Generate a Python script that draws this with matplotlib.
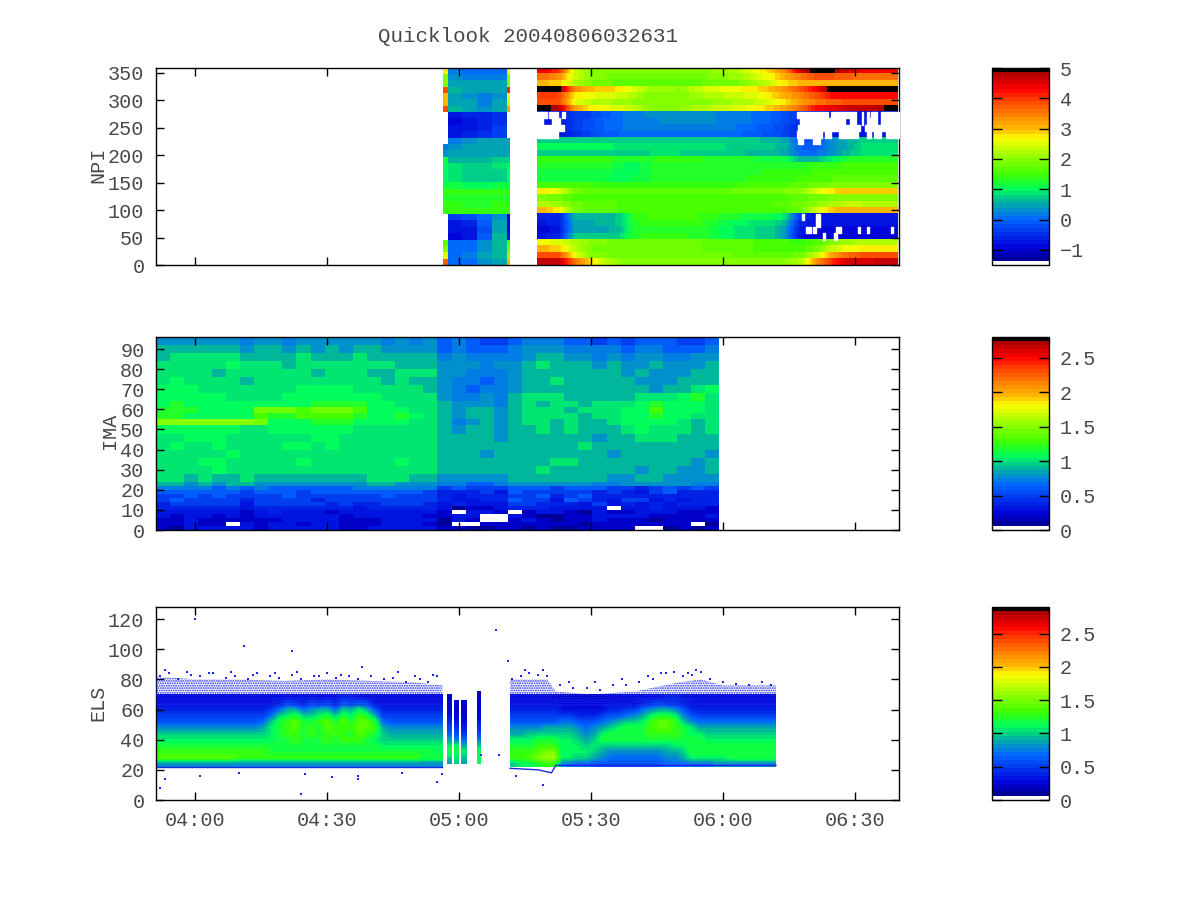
import numpy as np
import matplotlib; matplotlib.use('Agg')
import matplotlib.pyplot as plt
from matplotlib.colors import LinearSegmentedColormap

plt.rcParams.update({'font.family': 'Liberation Mono', 'font.size': 14.5, 'axes.linewidth': 1.0,
                     'text.color': '#484848', 'xtick.labelcolor': '#484848', 'ytick.labelcolor': '#484848',
                     'hatch.linewidth': 0.9})
nan = float('nan')

title = 'Quicklook 20040806032631'
xtick_min = [240, 270, 300, 330, 360, 390]
xtick_lab = ['04:00', '04:30', '05:00', '05:30', '06:00', '06:30']
t_lim = [230.9, 400.2]

# --- NPI: 31 sectors, top row first
npi_right_t = [317.8, 399.9]
npi_right = [
 [4.4,4.0,2.4,2.0,2.0,1.9,1.9,1.9,1.9,1.9,1.9,2.0,2.1,2.3,2.6,2.9,3.4,4.6,5.0,5.0,4.6,4.4,4.4,4.4],
 [3.6,3.3,2.4,2.0,1.9,1.8,1.8,1.8,1.8,1.8,1.8,1.9,2.0,2.1,2.4,2.7,3.1,3.5,3.8,3.8,3.7,3.6,3.6,3.6],
 [3.0,2.9,2.2,1.9,1.8,1.7,1.7,1.7,1.7,1.7,1.7,1.8,1.8,1.9,2.1,2.4,2.8,3.0,3.1,3.1,3.0,3.0,3.0,3.0],
 [5.0,5.0,3.4,3.0,2.9,2.8,2.5,2.1,2.1,2.0,2.3,2.5,2.6,2.7,2.8,3.0,3.3,3.8,4.3,5.0,5.0,5.0,5.0,5.0],
 [4.0,3.9,2.8,2.6,2.5,2.4,2.2,1.9,1.9,1.9,2.1,2.2,2.3,2.4,2.5,2.8,3.1,3.4,3.8,4.2,4.3,4.3,4.3,4.3],
 [3.9,3.8,2.6,2.3,2.2,2.1,2.0,1.9,1.9,1.9,2.0,2.0,2.1,2.2,2.3,2.5,2.8,3.2,3.5,3.7,3.8,3.8,3.8,3.9],
 [5.0,4.7,3.2,2.8,2.6,2.5,2.3,2.0,2.0,2.0,2.2,2.3,2.4,2.5,2.7,2.9,3.2,3.6,4.2,4.4,4.6,4.6,4.7,5.0],
 [-.7,-.7,-.4,-.3,-.1,0.1,0.2,0.3,0.3,0.3,0.3,0.3,0.2,0.2,0.1,0.0,-.2,-.5,-.7,-.7,-.8,-.8,-.8,-.8],
 [-.7,-.7,-.4,-.2,0.0,0.1,0.2,0.2,0.3,0.3,0.3,0.3,0.2,0.2,0.1,0.0,-.2,-.5,-.7,-.7,-.8,-.8,-.8,-.8],
 [-.7,-.7,-.4,-.2,0.0,0.1,0.2,0.2,0.2,0.2,0.2,0.2,0.2,0.1,0.0,-.1,-.3,-.6,-.7,-.7,-.8,-.8,-.8,-.8],
 [-.8,-.8,-.5,-.3,-.1,0.0,0.1,0.1,0.1,0.1,0.1,0.1,0.1,0.0,-.1,-.2,-.3,-.7,-.8,-.8,-.8,-.8,-.8,-.8],
 [0.8,0.8,0.8,0.8,0.8,0.8,0.8,0.8,0.8,0.8,0.8,0.8,0.8,0.7,0.7,0.6,0.5,-.1,-.3,0.3,0.5,0.7,0.8,0.8],
 [1.0,1.0,1.0,1.0,1.0,0.9,0.9,0.9,0.9,0.9,0.9,0.9,0.8,0.8,0.7,0.7,0.6,0.0,-.1,0.3,0.5,0.8,0.9,0.9],
 [0.8,0.8,0.8,0.8,0.8,0.8,0.8,0.8,0.9,0.8,0.8,0.8,0.7,0.7,0.6,0.6,0.5,0.1,0.1,0.3,0.6,0.8,0.9,0.9],
 [1.4,1.4,1.4,1.4,1.4,1.3,1.3,1.3,1.4,1.4,1.4,1.3,1.3,1.3,1.2,1.2,1.1,0.6,0.6,0.9,1.2,1.3,1.3,1.3],
 [1.3,1.3,1.3,1.3,1.3,1.1,1.0,1.2,1.3,1.3,1.3,1.3,1.3,1.3,1.3,1.3,1.3,1.3,1.4,1.4,1.5,1.5,1.5,1.5],
 [1.2,1.2,1.2,1.2,1.2,1.0,1.0,1.2,1.3,1.3,1.3,1.3,1.3,1.3,1.3,1.4,1.4,1.4,1.5,1.5,1.6,1.6,1.6,1.6],
 [1.2,1.2,1.2,1.2,1.1,1.0,1.1,1.2,1.3,1.3,1.3,1.3,1.3,1.3,1.4,1.4,1.4,1.5,1.6,1.6,1.7,1.7,1.7,1.7],
 [1.6,1.6,1.5,1.5,1.4,1.4,1.4,1.4,1.4,1.4,1.4,1.4,1.4,1.5,1.5,1.5,1.6,1.7,1.8,1.9,2.0,2.0,2.0,2.0],
 [2.8,2.5,1.8,1.7,1.7,1.7,1.7,1.7,1.7,1.7,1.7,1.7,1.7,1.8,1.8,1.8,1.9,2.0,2.4,2.8,2.9,2.9,2.9,2.9],
 [1.9,1.8,1.6,1.6,1.6,1.6,1.6,1.6,1.6,1.6,1.6,1.6,1.6,1.6,1.6,1.6,1.6,1.7,1.8,1.9,1.9,1.9,1.9,1.9],
 [2.2,2.1,1.8,1.7,1.7,1.6,1.6,1.6,1.6,1.6,1.6,1.6,1.6,1.6,1.6,1.6,1.7,1.8,2.0,2.2,2.3,2.3,2.2,2.2],
 [3.0,2.7,1.8,1.7,1.7,1.6,1.6,1.6,1.6,1.6,1.6,1.6,1.5,1.5,1.5,1.5,1.6,1.7,2.4,2.9,3.1,3.1,3.1,3.1],
 [-.6,-.6,0.6,0.6,0.6,0.7,1.4,1.5,1.5,1.5,1.5,1.4,1.3,1.2,1.1,1.1,0.9,-.4,-.8,-.8,-.8,-.8,-.8,-.8],
 [-.7,-.6,0.5,0.5,0.6,0.7,1.3,1.4,1.4,1.4,1.4,1.3,1.1,1.0,0.9,0.9,0.6,-.6,-.8,-.8,-.8,-.8,-.8,-.8],
 [-.9,-.7,0.5,0.5,0.5,0.6,1.3,1.3,1.3,1.3,1.3,1.2,1.0,0.9,0.8,0.8,0.4,-.7,-.9,-.9,-.9,-.9,-.9,-.9],
 [-.7,-.6,0.7,0.7,0.7,0.8,1.3,1.4,1.4,1.4,1.3,1.2,1.0,0.9,0.8,0.8,0.4,-.8,-.9,-.9,-.9,-.9,-.9,-.9],
 [2.6,2.5,2.2,2.0,1.9,1.8,1.8,1.8,1.8,1.8,1.8,1.7,1.7,1.7,1.6,1.5,1.5,1.4,1.6,1.9,2.1,2.2,2.2,2.2],
 [3.0,2.9,2.3,1.9,1.8,1.8,1.8,1.8,1.8,1.8,1.8,1.7,1.7,1.7,1.6,1.6,1.5,1.5,1.8,2.3,2.6,2.7,2.8,2.8],
 [3.9,3.8,2.6,2.0,1.9,1.8,1.8,1.8,1.8,1.8,1.8,1.8,1.8,1.7,1.7,1.7,1.7,1.8,2.3,3.1,3.6,3.8,3.8,3.8],
 [4.7,4.6,3.6,2.9,2.3,2.0,1.9,1.9,1.9,1.9,1.9,1.9,1.9,1.9,1.9,1.9,2.0,2.2,3.2,4.0,4.5,4.5,4.6,4.6],
]
npi_left_edges = [296.4, 297.5, 300.7, 304.1, 307.5, 310.9, 311.6]
npi_left = [
 [2.8,.2,.1,.1,.1,2.6],[2.0,.3,.2,.2,.2,2.0],[1.9,.5,.4,.4,.4,1.9],[3.9,.6,.5,.4,.4,4.1],
 [3.0,.4,.3,.2,.3,2.6],[3.1,.5,.4,.2,.4,2.4],[3.8,.6,.4,.3,.4,3.2],
 [nan,-.8,-.6,-.6,-.5,nan],[nan,-.9,-.8,-.6,-.5,nan],[nan,-.8,-.7,-.6,-.4,nan],[nan,-.7,-.6,-.5,-.3,nan],
 [nan,.2,.3,.4,.4,.5],[.2,.3,.4,.4,.4,.4],[.3,.4,.4,.4,.4,.4],[1.1,.6,.6,.6,.7,.8],
 [1.0,.9,.8,.8,.9,1.0],[1.0,.9,.8,.7,.8,1.0],[1.0,.9,.7,.7,.8,1.0],[1.2,1.1,1.0,1.0,1.1,1.2],
 [1.4,1.4,1.4,1.4,1.4,1.4],[1.3,1.3,1.3,1.3,1.3,1.3],[1.4,1.4,1.3,1.3,1.4,1.4],[1.4,1.4,1.4,1.4,1.4,1.4],
 [nan,-.3,-.2,0.,.3,-.9],[nan,-.8,-.6,-.1,.4,-.9],[nan,-.8,-.7,-.2,.4,-.9],[nan,-.9,-.7,-.1,.6,-.8],
 [1.7,0.,.1,.3,.6,1.6],[2.0,0.,.1,.3,.6,1.8],[2.5,.1,.2,.4,.6,2.1],[3.7,.1,.1,.3,.5,3.0],
]
# missing samples in the right block: row from the top -> (start, end) in minutes
npi_gaps = {
 7: [(317.8,319.9),(320.5,322.6),(323.3,324.1),(376.8,384.0),(384.7,390.4),(391.6,391.9),(392.7,393.3),(393.8,395.0),(396.1,400.0)],
 8: [(317.8,319.0),(321.1,323.0),(377.6,387.9),(388.9,390.4),(391.6,391.9),(392.7,395.0),(396.1,400.0)],
 9: [(317.8,323.2),(323.5,323.9),(377.0,391.2),(392.3,400.0)],
 10: [(317.8,322.6),(376.8,382.5),(383.2,384.7),(386.5,390.8),(392.7,393.8),(394.4,396.0),(397.1,400.0)],
 11: [(377.2,378.3),(380.6,382.1)],
 23: [(377.9,378.4),(381.1,382.1)],
 24: [(381.1,382.1)],
 25: [(378.9,380.0),(380.6,381.1),(385.7,386.3),(386.5,387.0),(390.7,391.2),(392.8,393.3),(398.2,398.8)],
 26: [(382.7,383.2),(385.3,385.9)],
}

# --- IMA: 40 time columns, bands from the top, values in tenths
ima_t = [230.9, 359.2]
ima_edges = [96,92,88,84,80,76,72,68,64,61,58,55,52,48,44,40,36,32,28,24,22,20,18,16,14,12,10,8,6,4,2,0]
ima_tenths = [
 [8,8,8,8,8,8,7,8,8,7,8,8,8,8,8,8,7,8,7,8,6,7,6,5,5,6,7,7,7,6,6,5,6,5,6,6,6,5,5,6],
 [9,9,9,9,9,9,8,9,9,8,9,8,9,8,9,9,8,8,8,8,6,7,6,6,6,7,8,8,8,7,7,7,7,6,7,7,6,6,6,7],
 [9,10,10,10,10,10,9,9,9,9,10,9,9,9,10,9,9,9,9,9,7,8,7,7,7,7,8,9,9,8,8,7,8,7,8,8,7,7,8,8],
 [10,10,10,10,10,11,10,10,10,9,10,10,10,10,10,10,10,9,9,9,8,8,8,7,8,8,9,10,9,9,9,8,9,8,8,9,8,8,8,9],
 [10,10,10,10,9,10,10,10,10,10,10,9,10,10,10,9,9,10,10,10,8,8,7,7,7,8,9,9,9,9,9,9,9,8,9,8,8,8,9,9],
 [10,11,10,10,10,10,9,10,10,10,10,10,10,10,10,10,9,10,9,9,8,7,7,6,7,8,9,9,10,9,9,9,9,9,8,8,8,9,9,9],
 [11,11,11,10,10,10,10,10,10,10,11,11,11,11,10,10,10,10,10,9,8,7,6,7,7,8,9,9,9,9,9,9,9,9,9,8,9,9,10,11],
 [11,11,11,11,11,10,10,10,10,11,11,11,11,11,11,11,10,10,10,10,8,7,7,8,7,9,10,10,10,9,9,9,9,9,10,10,10,11,12,10],
 [11,12,11,11,11,11,11,11,11,11,11,12,12,12,12,11,11,10,10,10,9,8,8,8,7,9,10,9,10,10,9,10,10,10,11,12,11,11,11,10],
 [12,12,12,11,11,11,11,14,14,14,13,14,14,14,13,11,11,11,10,10,9,8,9,9,8,9,10,10,10,9,10,10,10,11,11,13,11,11,11,10],
 [12,12,11,11,11,11,11,13,12,12,13,13,13,13,12,11,11,12,11,10,9,8,9,9,8,9,10,10,10,10,9,10,10,11,11,12,11,11,10,10],
 [15,15,15,15,15,15,15,14,11,11,11,12,12,12,11,11,11,11,10,10,9,7,8,9,8,9,10,10,9,10,9,9,10,11,11,11,11,10,9,10],
 [11,11,11,11,11,11,10,10,11,11,11,11,11,11,10,10,10,10,10,10,9,8,9,9,8,9,9,10,9,10,9,9,9,10,11,10,10,10,9,10],
 [10,10,11,11,11,10,10,10,10,10,10,11,11,10,10,10,10,10,10,10,9,9,9,9,8,9,9,9,9,9,9,8,9,9,10,10,10,9,9,9],
 [10,11,10,10,11,10,10,10,10,11,11,10,11,10,10,10,10,10,10,10,9,9,9,9,9,9,9,9,9,9,10,9,9,9,9,9,9,9,9,9],
 [10,10,10,10,10,11,10,10,10,10,10,10,10,10,10,10,10,10,10,10,9,9,9,8,9,9,9,9,9,9,9,9,8,9,9,9,9,9,9,8],
 [10,10,10,11,11,10,10,10,10,10,11,10,10,10,10,10,10,11,10,10,9,9,9,9,9,9,9,9,10,10,9,9,9,9,9,9,9,9,8,9],
 [10,10,10,10,11,10,10,10,10,10,10,10,10,10,10,10,10,10,10,10,9,9,9,9,9,9,9,10,9,9,9,9,9,9,8,9,9,8,8,9],
 [10,10,9,10,9,9,10,9,9,9,9,9,9,9,9,10,10,10,9,9,8,8,8,8,8,9,9,9,9,9,9,9,8,8,9,9,8,8,8,8],
 [9,9,8,9,8,9,9,8,8,8,8,8,8,8,8,9,9,8,8,8,7,7,6,6,7,8,8,8,8,8,8,7,7,8,8,8,8,8,7,7],
 [7,7,7,7,6,7,6,7,6,6,6,6,6,6,7,7,7,7,7,7,5,6,5,5,5,6,6,6,5,6,6,6,5,5,4,5,6,5,6,5],
 [6,6,6,6,6,6,5,6,6,6,5,6,6,6,6,6,6,6,6,5,4,4,4,5,3,6,5,5,5,5,5,4,5,4,3,5,6,4,4,4],
 [5,5,6,5,6,5,5,5,5,6,5,5,5,5,5,5,6,5,5,5,4,3,4,4,4,5,5,6,4,5,6,4,4,4,4,4,4,4,4,4],
 [5,6,5,5,5,5,4,5,5,5,5,4,5,5,5,5,5,5,5,5,4,3,3,4,4,6,5,5,3,6,5,4,3,5,5,3,4,3,4,4],
 [4,5,5,5,5,5,3,5,5,5,5,5,4,5,4,4,5,5,5,4,3,4,3,3,3,5,5,4,4,4,3,5,3,4,3,4,3,4,4,4],
 [4,4,4,4,4,4,3,4,4,4,4,4,4,4,3,4,4,4,4,4,3,1,2,2,3,4,4,4,3,3,3,3,nan,3,3,4,3,3,3,2],
 [3,3,3,3,3,3,2,3,4,3,3,3,2,3,3,3,3,3,3,3,2,nan,3,3,2,nan,2,3,3,2,1,3,2,2,3,3,3,2,2,2],
 [3,2,3,3,2,3,2,3,3,3,3,3,3,2,3,3,3,3,3,2,2,3,3,nan,nan,3,2,1,1,2,2,3,3,3,3,2,2,2,2,3],
 [2,2,3,2,2,2,2,2,2,3,3,3,3,2,2,2,3,3,3,3,1,3,2,nan,nan,2,3,2,1,2,2,3,2,2,2,1,2,2,2,2],
 [2,2,3,2,2,nan,3,2,3,3,2,3,3,2,2,2,3,3,3,2,1,nan,nan,2,2,2,2,2,2,2,1,2,2,2,2,2,2,2,nan,1],
 [2,1,3,3,3,3,3,2,3,3,3,3,3,2,2,3,3,3,3,3,2,2,1,1,2,2,1,2,1,1,2,2,2,2,nan,nan,1,2,1,2],
]

# --- ELS: energy rows from the bottom, values in tenths
els_rows = [22, 70]
els_left_t = [230.9, 296.2]
els_left = [
 [8,8,8,8,8,8,8,8,8,8,8,8,8,8,8,8,8,8,8,8,8,8,8,8,8,8,8,8,8,8,8,8,8,8,8,8],
 [14,14,14,14,14,14,14,14,14,14,13,13,13,13,13,13,13,13,13,13,13,13,13,13,13,13,13,13,13,13,13,13,13,12,12,12],
 [13,13,13,13,13,13,13,13,13,13,13,13,13,13,12,12,12,12,12,12,12,12,12,12,12,12,12,12,12,12,12,12,12,12,12,11],
 [12,12,12,12,12,12,12,12,12,12,12,12,12,12,12,12,12,12,12,12,12,12,12,12,12,12,12,12,11,11,11,11,11,11,11,11],
 [11,11,11,11,11,11,11,11,11,11,11,11,11,11,11,12,12,13,12,12,12,13,12,13,13,13,12,11,10,10,10,10,10,10,10,10],
 [10,10,10,10,10,10,10,10,10,10,10,10,10,10,11,12,13,13,12,13,12,13,13,13,12,14,13,12,10,9,9,9,9,9,9,9],
 [8,8,8,8,8,8,8,8,8,8,8,8,8,9,11,12,13,14,12,13,12,14,13,13,13,14,14,13,9,8,8,8,8,8,8,8],
 [6,6,6,6,6,6,6,6,6,6,6,6,6,7,10,12,13,14,12,12,13,14,12,14,12,14,14,12,7,6,6,6,6,6,6,6],
 [5,5,5,5,5,5,5,5,5,5,5,5,5,5,7,10,11,12,10,10,11,12,10,12,11,13,12,9,5,5,5,5,5,5,5,5],
 [4,4,4,4,4,4,4,4,4,4,4,4,4,4,5,7,9,9,7,8,9,9,7,10,9,11,9,6,4,4,4,4,4,4,4,4],
 [3,3,3,3,3,3,3,3,3,3,3,3,3,3,3,4,6,5,4,6,5,6,4,7,6,7,6,3,3,3,3,3,3,3,3,3],
 [3,3,3,3,3,3,3,3,3,3,3,3,3,3,3,3,3,3,3,3,3,3,3,4,4,3,3,3,3,3,3,3,3,3,3,3],
]
els_right_t = [311.6, 372.1]
els_right = [
 [10,11,11,12,13,13,8,7,7,7,6,6,6,6,6,6,6,6,6,7,7,7,7,7,7,8,8,8,8,8,8,8,8],
 [13,13,14,15,16,16,11,11,10,10,9,8,7,7,7,7,7,7,7,8,8,9,11,11,11,11,11,12,12,12,12,12,12],
 [13,13,13,14,15,15,11,11,11,11,10,9,8,8,8,8,8,8,8,9,9,10,12,12,12,12,12,12,12,12,12,12,12],
 [12,12,12,13,13,13,11,11,11,10,11,10,10,10,10,10,10,10,10,10,11,11,12,12,12,12,12,12,12,12,12,12,12],
 [11,11,11,12,12,12,11,11,10,9,10,12,12,12,12,12,12,12,12,12,12,12,12,12,11,11,11,11,11,11,11,11,11],
 [9,9,10,10,10,10,10,10,9,8,9,11,12,12,12,12,12,13,13,13,13,12,11,11,10,10,10,10,10,10,10,10,10],
 [8,8,8,8,9,9,9,9,8,7,8,9,10,11,12,12,12,13,14,14,13,12,11,9,9,9,9,9,9,9,9,9,9],
 [6,6,6,6,6,6,7,7,6,6,6,7,8,9,10,10,11,13,14,14,13,10,8,7,7,7,7,7,7,7,7,7,7],
 [5,5,5,5,5,5,5,5,4,4,4,5,6,6,7,8,9,11,12,12,11,8,6,5,5,5,5,5,5,5,5,5,5],
 [4,4,4,4,4,4,3,3,3,3,3,3,4,4,5,5,7,8,9,9,8,6,4,4,4,4,4,4,4,4,4,4,4],
 [3,3,3,3,3,3,3,3,3,3,3,3,3,3,3,3,4,5,6,5,5,4,3,3,3,3,3,3,3,3,3,3,3],
 [3,3,3,3,3,2,2,2,2,2,2,2,2,3,3,3,3,3,3,4,4,3,3,3,3,3,3,3,3,3,3,3,3],
]
# narrow bursts just after 04:56
els_strip_t = [(297.3,298.3),(298.9,300.0),(300.4,301.7),(304.1,305.0)]
els_strip_e = [(24,70),(24,66),(24,66),(24,72)]
els_strip_tenths = [
 [9,11,12,10,8,6,5,4,3,3,2,2],[10,11,12,11,8,6,5,4,3,3,2,2],[9,10,11,9,7,5,4,3,3,2,2,2],[11,12,11,9,6,5,4,3,3,2,2,2],
]
# thin fringe of sparse counts above the band, and its lower rim
els_fringe_t = [230.9,240,250,260,270,280,290,296.2]
els_fringe_top = [82,80,80,79,80,79,78,76]
els_fringe2_t = [311.6,320,322,330,340,350,355,360,372.1]
els_fringe2_top = [80,80,72,70,72,78,80,76,76]
els_floor_l_t = [230.9, 296.2]
els_floor_l_e = [22, 22]
els_floor_r_t = [311.6, 318, 321, 322, 372.1]
els_floor_r_e = [21, 20, 18, 23, 23]
els_dot_t = [232,234,236,239,241,244,247,249,252,254,257,259,262,264,267,270,272,275,277,280,283,285,288,291,
             293,295,233,238,243,248,253,258,263,268,273,278,286,290,294,312,314,316,318,320,323,326,329,332,
             335,338,341,344,347,349,351,353,355,357,360,363,366,369,371,315,319,325,331,337,343,346,352,354,
             240,251,262,265,271,277,287,296,232,233,295,308.3,264,250,241,277,305,309,313,319,311]
els_dot_e = [82,84,80,83,82,84,81,82,80,84,82,81,83,80,82,84,81,82,80,82,80,81,78,80,
             78,82,86,85,84,85,83,84,85,82,83,88,85,82,83,80,82,84,83,82,76,74,74,73,
             76,76,78,80,84,85,82,83,85,80,78,77,76,78,76,86,86,78,78,80,82,84,84,86,
             120,102,99,17,15,14,18,17,8,14,12,113,4,18,16,16,30,30,16,10,92]

npi_ticks = list(range(0, 351, 50))
ima_ticks = list(range(0, 91, 10))
els_ticks = list(range(0, 121, 20))
npi_range = [-1.5, 5.0]
ima_range = [0.0, 2.8]
els_range = [0.0, 2.9]
npi_cb_ticks = [-1, 0, 1, 2, 3, 4, 5]
ima_cb_ticks = [0, 0.5, 1, 1.5, 2, 2.5]
els_cb_ticks = [0, 0.5, 1, 1.5, 2, 2.5]

base = LinearSegmentedColormap.from_list('ql', [
    (0.0, (0, 0, .5)), (.077, (0, 0, .85)), (.23, (0, .4, 1)), (.31, (0, .68, .65)), (.385, (0, 1, .35)),
    (.46, (.25, 1, 0)), (.54, (.55, 1, 0)), (.65, (1, 1, 0)), (.69, (1, .75, 0)), (.846, (1, .25, 0)),
    (.9, (1, 0, 0)), (1.0, (.6, 0, 0))], N=48)
lut = base(np.arange(48))
lut[0] = (1, 1, 1, 1); lut[-1] = (0, 0, 0, 1)
cmap = LinearSegmentedColormap.from_list('ql2', lut, N=48).with_extremes(bad=(1, 1, 1, 0))

fig = plt.figure(figsize=(12, 9), dpi=100)
def px_axes(x0, y0, x1, y1):
    return fig.add_axes([x0/1200, 1-y1/900, (x1-x0)/1200, (y1-y0)/900])

boxes = [(68, 265), (337, 530), (607, 800)]
axs = [px_axes(155.5, a, 899.5, b) for a, b in boxes]
ax_n, ax_i, ax_e = axs

# NPI: one image per sector so the colour blends along time only
nr = len(npi_right)
dy = 360 / nr
kw = dict(cmap=cmap, vmin=npi_range[0], vmax=npi_range[1], aspect='auto')
for i, row in enumerate(npi_right):
    top = 360 - i*dy
    ax_n.imshow([row], extent=[npi_right_t[0], npi_right_t[1], top-dy, top], interpolation='bilinear', **kw)
    for t0, t1 in npi_gaps.get(i, []):
        ax_n.broken_barh([(t0, t1-t0)], (top-dy, dy), color='white', zorder=3)
ax_n.pcolormesh(npi_left_edges, 360-np.arange(nr+1)*dy, np.array(npi_left), cmap=cmap,
                vmin=npi_range[0], vmax=npi_range[1])

# IMA
ax_i.pcolormesh(np.linspace(ima_t[0], ima_t[1], 41), ima_edges, np.array(ima_tenths)/10, cmap=cmap,
                vmin=ima_range[0], vmax=ima_range[1])

# ELS
for table, tr in [(els_left, els_left_t), (els_right, els_right_t)]:
    ax_e.imshow(np.array(table)/10, origin='lower', extent=[tr[0], tr[1], els_rows[0], els_rows[1]],
                interpolation='bilinear', cmap=cmap, vmin=els_range[0], vmax=els_range[1], aspect='auto')
for (t0, t1), (e0, e1), col in zip(els_strip_t, els_strip_e, els_strip_tenths):
    ax_e.imshow(np.array(col)[:, None]/10, origin='lower', extent=[t0, t1, e0, e1], interpolation='bilinear',
                cmap=cmap, vmin=els_range[0], vmax=els_range[1], aspect='auto')
blue = '#1c28e6'
# sparse counts: dotted texture rather than a solid wash
for tt, top in [(els_fringe_t, els_fringe_top), (els_fringe2_t, els_fringe2_top)]:
    ax_e.fill_between(tt, 62, top, facecolor='none', edgecolor=blue, hatch='.......', lw=0, zorder=3)
ax_e.plot(els_floor_l_t, els_floor_l_e, color=blue, lw=1.0)
ax_e.plot(els_floor_r_t, els_floor_r_e, color=blue, lw=1.0)
ax_e.scatter(els_dot_t, els_dot_e, s=1.5, marker='s', color=blue, lw=0)

for ax, ylim, ticks, lab, lx, ly in [
    (ax_n, (0, 359), npi_ticks, 'NPI', 98, 165),
    (ax_i, (0, 96), ima_ticks, 'IMA', 110, 431),
    (ax_e, (0, 128), els_ticks, 'ELS', 98, 703)]:
    ax.set_xlim(t_lim); ax.set_ylim(ylim)
    ax.set_yticks(ticks)
    ax.set_xticks(xtick_min)
    ax.set_xticklabels(xtick_lab if ax is ax_e else [])
    ax.tick_params(direction='in', length=5.8, width=1, top=True, right=True, pad=8)
    ax.set_zorder(2)
    fig.text(lx/1200, 1-ly/900, lab, rotation=90, ha='center', va='center')

# colour bars
for (a, b), rng, ticks in zip(boxes, [npi_range, ima_range, els_range], [npi_cb_ticks, ima_cb_ticks, els_cb_ticks]):
    cax = px_axes(992.5, a, 1048.5, b)
    sm = plt.cm.ScalarMappable(cmap=cmap, norm=plt.Normalize(rng[0], rng[1]))
    cb = fig.colorbar(sm, cax=cax, drawedges=False)
    cb.set_ticks(ticks)
    cb.set_ticklabels([str(v).replace('-', '\u2212') for v in ticks])
    cax.tick_params(direction='in', length=7, width=1, left=True, right=True, pad=8)

fig.text(528/1200, 1-37/900, title, ha='center', va='center', fontsize=15)
fig.savefig('out.png', dpi=100)
